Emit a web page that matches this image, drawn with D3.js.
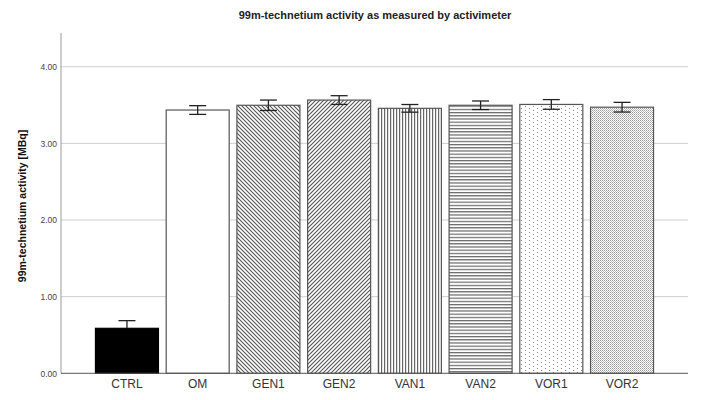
<!DOCTYPE html>
<html>
<head>
<meta charset="utf-8">
<script src="https://cdn.jsdelivr.net/npm/d3@7"></script>
<style>
  body { margin: 0; background: #fff; }
  svg { font-family: Arial, "Liberation Sans", sans-serif; }
</style>
</head>
<body>
<svg id="chart" width="701" height="400"></svg>
<script>
// groups and measured activity (MBq), mean and error half-width
const groups = ['CTRL', 'OM', 'GEN1', 'GEN2', 'VAN1', 'VAN2', 'VOR1', 'VOR2']
const means = [0.587, 3.435, 3.497, 3.565, 3.457, 3.497, 3.508, 3.472]
const errors = [0.100, 0.057, 0.068, 0.057, 0.050, 0.056, 0.063, 0.063]
const yTicks = [0, 1, 2, 3, 4]
const fills = ['#000', '#fff', 'url(#diagDown)', 'url(#diagUp)', 'url(#vert)', 'url(#horiz)', 'url(#dotsSparse)', 'url(#dotsDense)']

const svg = d3.select('#chart')
const plotLeft = 61, plotRight = 688, plotTop = 33, plotBottom = 373.3

const defs = svg.append('defs')
const pat = (id, w, h) => {
    const p = defs.append('pattern').attr('id', id)
        .attr('patternUnits', 'userSpaceOnUse').attr('width', w).attr('height', h)
    p.append('rect').attr('width', w).attr('height', h).attr('fill', '#fff')
    return p
}
// "\" lines
let p = pat('diagDown', 4, 4)
p.append('path').attr('d', 'M-1,-1 L5,5 M-1,3 L1,5 M3,-1 L5,1').attr('stroke', '#555').attr('stroke-width', 1.1)
// "/" lines
p = pat('diagUp', 4, 4)
p.append('path').attr('d', 'M-1,5 L5,-1 M-1,1 L1,-1 M3,5 L5,3').attr('stroke', '#555').attr('stroke-width', 1.1)
p = pat('vert', 3, 3)
p.append('rect').attr('x', 0).attr('width', 1.2).attr('height', 3).attr('fill', '#666')
p = pat('horiz', 3, 3.2)
p.append('rect').attr('y', 0).attr('width', 3).attr('height', 1.2).attr('fill', '#666')
p = pat('dotsSparse', 8, 4)
p.append('rect').attr('x', 1).attr('y', 0).attr('width', 1).attr('height', 1).attr('fill', '#888')
p.append('rect').attr('x', 5).attr('y', 2).attr('width', 1).attr('height', 1).attr('fill', '#888')
p = pat('dotsDense', 2, 2)
p.append('rect').attr('width', 1).attr('height', 1).attr('fill', '#999')
p.append('rect').attr('x', 1).attr('y', 1).attr('width', 1).attr('height', 1).attr('fill', '#bbb')

const x = d3.scaleBand().domain(groups).range([plotLeft, plotRight])
    .paddingInner(0.095).paddingOuter(0.48)
const y = d3.scaleLinear().domain([0, 4.44]).range([plotBottom, plotTop])

// gridlines
svg.append('g').selectAll('line').data(yTicks.filter(d => d > 0)).enter().append('line')
    .attr('x1', plotLeft).attr('x2', plotRight)
    .attr('y1', d => y(d)).attr('y2', d => y(d))
    .attr('stroke', '#cfcfcf').attr('stroke-width', 1)

// y axis
const yAxis = svg.append('g').attr('transform', `translate(${plotLeft},0)`)
    .call(d3.axisLeft(y).tickValues(yTicks).tickFormat(d3.format('.2f')).tickSize(0).tickPadding(4))
yAxis.select('.domain').remove()
yAxis.selectAll('text').attr('font-size', 8.5).attr('fill', '#444')
svg.append('line').attr('x1', plotLeft).attr('x2', plotLeft).attr('y1', plotTop).attr('y2', plotBottom)
    .attr('stroke', '#999')

// bars
const data = groups.map((g, i) => ({ g, m: means[i], e: errors[i], f: fills[i] }))
svg.append('g').selectAll('rect').data(data).enter().append('rect')
    .attr('x', d => x(d.g) + 0.5)
    .attr('y', d => y(d.m))
    .attr('width', x.bandwidth() - 1)
    .attr('height', d => y(0) - y(d.m))
    .attr('fill', d => d.f)
    .attr('stroke', d => d.g === 'CTRL' ? '#000' : '#555')
    .attr('stroke-width', 1.2)

// baseline
svg.append('line').attr('x1', plotLeft).attr('x2', plotRight).attr('y1', plotBottom).attr('y2', plotBottom)
    .attr('stroke', '#555')

// error bars (lower half hidden where the bar is solid black)
const eb = svg.append('g').selectAll('g').data(data).enter().append('g')
    .attr('stroke-width', 1.3)
const cx = d => x(d.g) + x.bandwidth() / 2
const lowCol = d => d.f === '#000' ? '#000' : '#222'
eb.append('line').attr('x1', cx).attr('x2', cx).attr('stroke', '#222')
    .attr('y1', d => y(d.m + d.e)).attr('y2', d => y(d.m))
eb.append('line').attr('x1', cx).attr('x2', cx).attr('stroke', lowCol)
    .attr('y1', d => y(d.m)).attr('y2', d => y(d.m - d.e))
eb.append('line').attr('x1', d => cx(d) - 8.5).attr('x2', d => cx(d) + 8.5).attr('stroke', '#222')
    .attr('y1', d => y(d.m + d.e)).attr('y2', d => y(d.m + d.e))
eb.append('line').attr('x1', d => cx(d) - 8.5).attr('x2', d => cx(d) + 8.5).attr('stroke', lowCol)
    .attr('y1', d => y(d.m - d.e)).attr('y2', d => y(d.m - d.e))

// x labels
svg.append('g').selectAll('text').data(groups).enter().append('text')
    .attr('x', d => x(d) + x.bandwidth() / 2).attr('y', 388)
    .attr('text-anchor', 'middle').attr('font-size', 12).attr('fill', '#333')
    .text(d => d)

// titles
svg.append('text').attr('x', 375).attr('y', 19).attr('text-anchor', 'middle')
    .attr('font-size', 11).attr('font-weight', 'bold').attr('fill', '#222')
    .text('99m-technetium activity as measured by activimeter')
svg.append('text').attr('transform', 'translate(26,206) rotate(-90)')
    .attr('text-anchor', 'middle').attr('font-size', 10.5).attr('font-weight', 'bold').attr('fill', '#111')
    .text('99m-technetium activity [MBq]')
</script>
</body>
</html>
